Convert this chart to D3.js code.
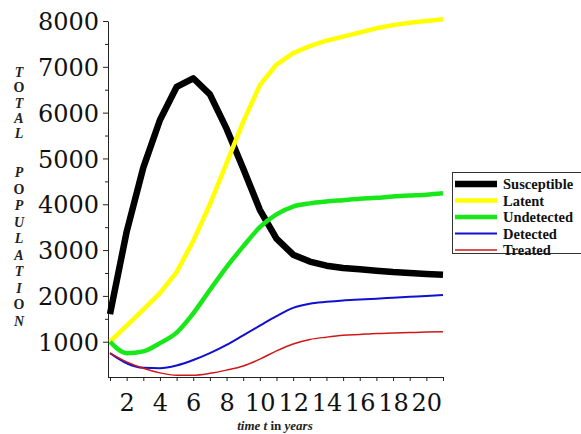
<!DOCTYPE html>
<html>
<head>
<meta charset="utf-8">
<script src="https://cdn.jsdelivr.net/npm/d3@7"></script>
<style>
  html, body { margin: 0; padding: 0; background: #fff; }
  svg { display: block; }
</style>
</head>
<body>
<svg id="chart" width="581" height="434"></svg>
<script>
// ---- data ----
const years = [1,2,3,4,5,6,7,8,9,10,11,12,13,14,15,16,17,18,19,20,21];
const susceptible = [1600,3400,4800,5840,6560,6750,6400,5650,4780,3880,3250,2900,2750,2660,2610,2580,2550,2520,2500,2480,2460];
const latent      = [1000,1350,1700,2060,2520,3200,4000,4900,5800,6600,7050,7300,7450,7570,7660,7750,7840,7910,7960,8000,8040];
const undetected  = [1000,750,790,970,1200,1620,2130,2630,3080,3500,3780,3950,4020,4060,4090,4120,4140,4170,4190,4210,4240];
const detected    = [750,530,430,420,480,600,750,930,1140,1350,1560,1740,1830,1870,1900,1920,1940,1960,1980,2000,2020];
const treated     = [750,560,420,320,270,270,310,380,470,620,800,950,1050,1100,1140,1160,1180,1190,1200,1210,1215];
const seriesNames = ["Susceptible","Latent","Undetected","Detected","Treated"];
const yMajorTicks = [1000,2000,3000,4000,5000,6000,7000,8000];
const yMinorTicks = [1500,2500,3500,4500,5500,6500,7500];
const xTicks = [1,2,3,4,5,6,7,8,9,10,11,12,13,14,15,16,17,18,19,20,21];
const xLabelTicks = [2,4,6,8,10,12,14,16,18,20];
const yTitle = ["T","O","T","A","L","","","P","O","P","U","L","A","T","I","O","N"];

// ---- styles ----
const styles = [
  {color:"#000000", width:6.5, curve:d3.curveLinear},
  {color:"#ffff00", width:4.5, curve:d3.curveLinear},
  {color:"#18e818", width:4.5, curve:d3.curveMonotoneX},
  {color:"#1010d0", width:2,   curve:d3.curveMonotoneX},
  {color:"#d01818", width:1.5, curve:d3.curveMonotoneX}
];
const allSeries = [susceptible, latent, undetected, detected, treated];

const svg = d3.select("#chart");
const x = d3.scaleLinear().domain([0.88, 21]).range([108, 443]);
const y = d3.scaleLinear().domain([230, 8000]).range([377, 21]);

const serif = "'Liberation Serif','Times New Roman',serif";
const tickFont = "'DejaVu Serif',serif";

// y axis
const yAxis = svg.append("g").attr("transform", "translate(108,0)");
yAxis.call(d3.axisLeft(y).tickValues(yMajorTicks).tickSize(5).tickSizeOuter(0).tickPadding(4).tickFormat(d3.format("d")));
yAxis.selectAll("text").attr("font-family", tickFont).attr("font-size", 24).attr("fill", "#111").attr("dy", "0.36em");
const yMinor = svg.append("g").attr("transform", "translate(108,0)");
yMinor.call(d3.axisLeft(y).tickValues(yMinorTicks).tickSize(3).tickSizeOuter(0).tickFormat(""));
yMinor.select(".domain").remove();

// x axis
const xAxis = svg.append("g").attr("transform", "translate(0,377)");
xAxis.call(d3.axisBottom(x).tickValues(xTicks).tickSize(4).tickSizeOuter(0)
  .tickFormat(d => xLabelTicks.includes(d) ? String(d) : ""));
xAxis.select(".domain").attr("d", `M108,0.5H443`);
xAxis.selectAll("text").attr("font-family", tickFont).attr("font-size", 24).attr("fill", "#111")
  .attr("y", 34).attr("dy", 0);

svg.selectAll(".domain, .tick line").attr("stroke", "#222");

// lines
allSeries.forEach((vals, i) => {
  const line = d3.line().x((d, j) => x(years[j])).y(d => y(d)).curve(styles[i].curve);
  svg.append("path").datum(vals)
    .attr("fill", "none")
    .attr("stroke", styles[i].color)
    .attr("stroke-width", styles[i].width)
    .attr("stroke-linejoin", "round")
    .attr("d", line);
});

// y title (stacked letters)
const yt = svg.append("g");
yTitle.forEach((ch, i) => {
  if (!ch) return;
  const yy = i < 5 ? 77 + i * 15.3 : 177 + (i - 7) * 16.5;
  yt.append("text").attr("x", 19).attr("y", yy).attr("text-anchor", "middle")
    .attr("font-family", serif).attr("font-size", 14).attr("font-weight", "bold")
    .attr("font-style", (ch === "O") ? "normal" : "italic")
    .attr("fill", "#222").text(ch);
});

// x title
const xt = svg.append("text").attr("x", 275).attr("y", 430).attr("text-anchor", "middle")
  .attr("font-family", serif).attr("font-size", 13).attr("font-weight", "bold").attr("fill", "#222");
xt.append("tspan").attr("font-style", "italic").text("time t ");
xt.append("tspan").text("in ");
xt.append("tspan").attr("font-style", "italic").text("years");

// legend
const lg = svg.append("g");
lg.append("rect").attr("x", 452.5).attr("y", 172.5).attr("width", 135).attr("height", 81)
  .attr("fill", "#fff").attr("stroke", "#333").attr("stroke-width", 1);
const legendY = [184, 200.5, 217, 233.5, 250];
seriesNames.forEach((name, i) => {
  lg.append("line").attr("x1", 455).attr("x2", 497).attr("y1", legendY[i]).attr("y2", legendY[i])
    .attr("stroke", styles[i].color).attr("stroke-width", styles[i].width);
  lg.append("text").attr("x", 503).attr("y", legendY[i]).attr("dy", "0.35em")
    .attr("font-family", serif).attr("font-size", 14.5).attr("font-weight", "bold")
    .attr("fill", "#111").text(name);
});
</script>
</body>
</html>
